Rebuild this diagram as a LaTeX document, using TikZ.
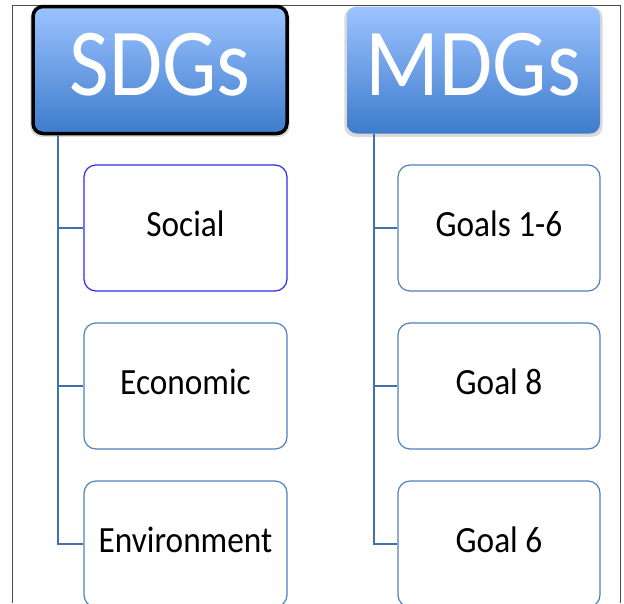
\documentclass[tikz,border=0pt]{standalone}
\usepackage{fontspec}
\usepackage{tikz}
\usetikzlibrary{shadows}
\newfontfamily\boxfont{Carlito}
\definecolor{headtop}{HTML}{9CC3FF}
\definecolor{headbot}{HTML}{3D7BCC}
\definecolor{itemline}{HTML}{4F81BD}
\definecolor{branchline}{HTML}{4470A8}
\definecolor{socialline}{HTML}{2B2BF0}
\def\headtext#1{\scalebox{0.9}[1]{\fontsize{96}{96}\selectfont #1}}
\def\itemtext#1{\scalebox{0.9}[1]{\fontsize{37}{37}\selectfont #1}}
\tikzset{
	header/.style={rectangle,rounded corners=10pt,minimum width=254pt,minimum height=127pt,
		top color=headtop,bottom color=headbot,text=white,font=\boxfont,text depth=12pt,
		general shadow={fill=gray!30,shadow scale=1.02,shadow yshift=-2pt}},
	item/.style={rectangle,rounded corners=12pt,draw=itemline,line width=1.2pt,fill=white,
		minimum width=203pt,minimum height=126pt,font=\boxfont,text depth=8pt},
	branch/.style={draw=branchline,line width=1.5pt}
}

\begin{document}
\begin{tikzpicture}[x=1pt,y=-1pt]
			\useasboundingbox (0,0) rectangle (624,603);
			\clip (0,0) rectangle (624,603);
			\draw[gray!60!black,line width=1pt] (12,603) -- (12,5) -- (620,5) -- (620,603);
			% headers
			\node[header,draw=black,line width=3.5pt] (sdg) at (160,70) {\headtext{SDGs}};
			\node[header,minimum width=253pt] (mdg) at (473.5,70) {\headtext{MDGs}};
			% SDG items
			\node[item,draw=socialline] (social) at (185.5,228) {\itemtext{Social}};
			\node[item] (economic) at (185.5,386) {\itemtext{Economic}};
			\node[item] (environment) at (185.5,544) {\itemtext{Environment}};
			% MDG items
			\node[item,minimum width=202pt] (goalsa) at (499,228) {\itemtext{Goals 1-6}};
			\node[item,minimum width=202pt] (goalb) at (499,386) {\itemtext{Goal 8}};
			\node[item,minimum width=202pt] (goalc) at (499,544) {\itemtext{Goal 6}};
			% branches
			\foreach \n in {social,economic,environment}
				\draw[branch] ([xshift=26.5pt]sdg.south west) |- (\n.west);
			\foreach \n in {goalsa,goalb,goalc}
				\draw[branch] ([xshift=27pt]mdg.south west) |- (\n.west);
		\end{tikzpicture}
\end{document}
